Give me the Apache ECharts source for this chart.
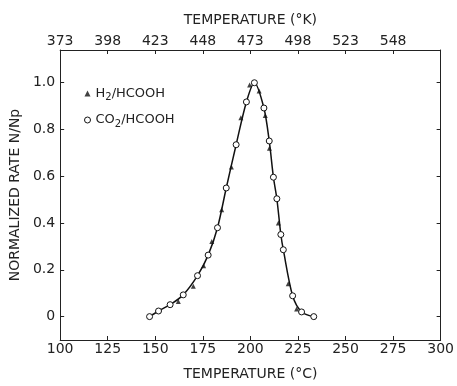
<!DOCTYPE html>
<html><head><meta charset="utf-8">
<script src="https://cdn.jsdelivr.net/npm/echarts@6/dist/echarts.min.js"></script>
<style>html,body{margin:0;padding:0;background:#fff}#c{width:457px;height:386px}</style>
</head><body><div id="c"></div>
<script>
var co2Temp = [147.0,151.7,157.8,164.7,172.2,177.8,182.7,187.3,192.5,197.9,202.1,207.1,209.9,212.1,213.9,216.0,217.3,222.2,226.9,233.3];
var co2Rate = [0.0,0.024,0.051,0.093,0.175,0.263,0.38,0.55,0.735,0.918,1.0,0.892,0.751,0.596,0.504,0.351,0.286,0.089,0.02,0.0];
var h2Temp = [162.1,170.0,175.4,179.7,184.9,190.0,195.0,199.6,204.6,207.8,210.0,214.7,219.9,224.3];
var h2Rate = [0.065,0.13,0.218,0.321,0.457,0.64,0.85,0.99,0.965,0.86,0.72,0.40,0.14,0.033];
var yTicks = [0,0.2,0.4,0.6,0.8,1.0];
var celsiusTicks = [100,125,150,175,200,225,250,275,300];
var kelvinTicks = [100,125,150,175,200,225,250,275];

function zip(a,b){return a.map(function(v,i){return [v,b[i]];});}
var F = 'DejaVu Sans';
var C = '#222';
var chart = echarts.init(document.getElementById('c'));
chart.setOption({
  animation:false,
  textStyle:{fontFamily:F,color:C},
  grid:{left:58,right:14,top:50,bottom:40},
  legend:{
    left:79, top:82, orient:'vertical', itemGap:11, itemWidth:6, itemHeight:6,
    data:[
      {name:'h2',icon:'triangle',itemStyle:{color:'#111',borderWidth:0}},
      {name:'co2',icon:'circle',itemStyle:{color:'#fff',borderColor:'#111',borderWidth:1}}
    ],
    formatter:function(n){return n==='h2'?'H{s|2}/HCOOH':'CO{s|2}/HCOOH';},
    textStyle:{fontFamily:F,fontSize:13,color:C,rich:{s:{fontSize:10,verticalAlign:'bottom',padding:[8,0,0,0],fontFamily:F,color:C}}}
  },
  xAxis:[{
    type:'value',min:100,max:300,position:'bottom',
    axisLine:{onZero:false,lineStyle:{color:C,width:1}},
    axisTick:{inside:true,length:4,customValues:celsiusTicks,lineStyle:{color:C}},
    axisLabel:{customValues:celsiusTicks,fontFamily:F,fontSize:14,color:C,margin:2},
    splitLine:{show:false},
    name:'TEMPERATURE (°C)',nameLocation:'middle',nameGap:27,
    nameTextStyle:{fontFamily:F,fontSize:14,color:C}
  },{
    type:'value',min:100,max:300,position:'top',
    axisLine:{onZero:false,lineStyle:{color:C,width:1}},
    axisTick:{inside:true,length:4,customValues:kelvinTicks,lineStyle:{color:C}},
    axisLabel:{customValues:kelvinTicks,fontFamily:F,fontSize:14,color:C,margin:2,
      formatter:function(v){return String(Math.round(v+273));}},
    splitLine:{show:false},
    name:'TEMPERATURE (°K)',nameLocation:'middle',nameGap:23,
    nameTextStyle:{fontFamily:F,fontSize:14,color:C}
  }],
  yAxis:[{
    type:'value',min:-0.1,max:1.14,position:'left',
    axisLine:{show:true,onZero:false,lineStyle:{color:C,width:1}},
    axisTick:{show:true,inside:true,length:4,customValues:yTicks,lineStyle:{color:C}},
    axisLabel:{customValues:yTicks,fontFamily:F,fontSize:14,color:C,margin:5,
      formatter:function(v){return v===0?'0':v.toFixed(1);}},
    splitLine:{show:false},
    name:'NORMALIZED RATE N/Np',nameLocation:'middle',nameGap:28,
    nameTextStyle:{fontFamily:F,fontSize:14,color:C}
  },{
    type:'value',min:-0.1,max:1.14,position:'right',
    axisLine:{show:true,onZero:false,lineStyle:{color:C,width:1}},
    axisTick:{show:true,inside:true,length:4,customValues:yTicks,lineStyle:{color:C}},
    axisLabel:{show:false},
    splitLine:{show:false}
  }],
  series:[{
    name:'co2',type:'line',data:zip(co2Temp,co2Rate),smooth:0.3,
    symbol:'circle',symbolSize:6,
    lineStyle:{color:'#111',width:1.5},
    itemStyle:{color:'#fff',borderColor:'#111',borderWidth:1},
    z:3
  },{
    name:'h2',type:'scatter',data:zip(h2Temp,h2Rate),
    symbol:'triangle',symbolSize:5,
    itemStyle:{color:'#111'},
    z:4
  }]
});
</script></body></html>
